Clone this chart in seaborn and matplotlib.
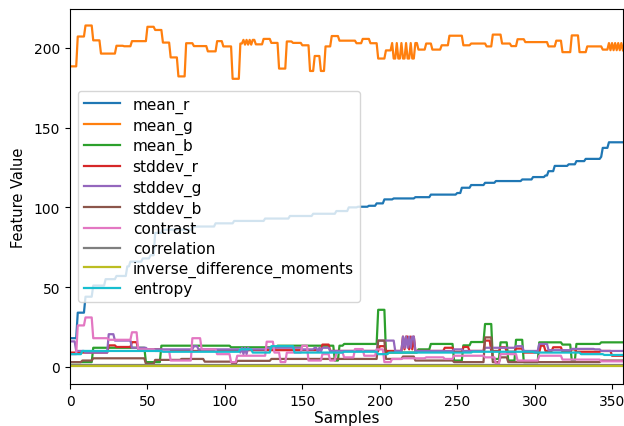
import numpy as np
import matplotlib
matplotlib.use("Agg")
import matplotlib.pyplot as plt
import seaborn as sns

n_samples = 358

# each series: sample index where a new level starts, and that level
mean_r_x = [0, 5, 10, 15, 23, 30, 37, 39, 47, 52, 55, 60, 80, 94, 106, 126, 142, 157, 172, 180,
            186, 193, 198, 203, 209, 223, 233, 250, 253, 259, 268, 275, 292, 299, 307, 309, 313, 322, 327, 333,
            343, 344, 348]
mean_r_y = [18, 34, 44, 51, 55, 57, 63, 66, 68, 70, 84, 86, 88, 90, 91.5, 93, 94.6, 96, 97.7, 100,
            100.4, 101, 102.5, 105, 105.6, 106.4, 108, 109, 112.3, 114, 115.4, 116.5, 117.5, 119, 120, 122.7, 126, 127, 129, 130.4,
            131.7, 137.3, 140.8]

mean_g_x = [0, 5, 10, 15, 20, 30, 35, 40, 50, 55,
            60, 65, 70, 75, 80, 89, 95, 99, 105, 110,
            112, 113, 114, 115, 116, 117, 118, 120, 125, 130,
            135, 140, 144, 150, 155, 158, 162, 165, 169, 174,
            185, 189, 194, 199, 204, 208, 209, 211, 212, 214,
            215, 217, 218, 220, 221, 223, 225, 230, 234, 240,
            245, 254, 259, 269, 273, 279, 285, 289, 294, 309,
            314, 318, 324, 329, 334, 344, 348, 349, 350, 351,
            352, 353, 354, 355, 356, 357]
mean_g_y = [188.4, 207.1, 214, 204.7, 196.4, 201.3, 201, 204.2, 213.2, 211.2,
            203.3, 194, 182.1, 202.9, 201.1, 197.8, 204.2, 200.9, 180.6, 202.7,
            205, 202, 205, 202, 205, 202, 205, 202.2, 205.6, 203.1,
            187, 204, 203.1, 201.6, 185.5, 194.9, 185.5, 200.9, 207.4, 204.5,
            202.9, 205.6, 202.9, 193.3, 198.4, 203, 193.3, 203, 193.3, 203,
            193.3, 203, 193.3, 203, 193.3, 203, 198.9, 202.7, 198.9, 201.6,
            207.6, 201.6, 202.7, 200.9, 208.3, 202.7, 201.1, 205.4, 203.6, 200.9,
            204.5, 197.3, 207.8, 197.3, 200.9, 198.9, 203, 198.5, 203, 198.5,
            203, 198.5, 203, 198.5, 203, 198.5]

mean_b_x = [0, 15, 49, 59, 104, 134, 171, 174, 177, 199, 204, 225, 233, 248, 254, 259, 268, 273, 278, 283,
            288, 293, 303, 318, 324, 327, 343]
mean_b_y = [3, 12, 3, 13.3, 12.3, 13.3, 4, 13.3, 14.4, 35.8, 9, 11, 14.4, 4, 13.5, 15.6, 26.9, 5, 15.4, 4,
            17, 3, 15.4, 14, 4, 14.4, 15.4]

stddev_r_x = [0, 25, 30, 40, 44, 60, 100, 163, 168, 200, 204, 215, 216, 217, 219, 220, 221, 222, 223, 242,
              248, 254, 258, 268, 272, 278, 282, 288, 293, 304, 307, 312, 318, 324, 327, 343, 350]
stddev_r_y = [9, 13.5, 12.5, 15.5, 11, 10, 10.5, 14, 10, 13, 10, 19, 11, 19, 11, 19, 11, 19, 10, 12,
              9.5, 12.5, 10, 16.5, 10, 12.3, 9.5, 11.5, 9, 13.3, 10, 12.3, 9.5, 11, 9.5, 10, 7]

stddev_g_x = [0, 4, 10, 25, 29, 40, 50, 80, 83, 110, 111, 112, 113, 114, 115, 116, 127, 150, 158, 160,
              161, 162, 163, 168, 199, 210, 215, 216, 217, 218, 219, 220, 221, 223, 248, 254, 268, 278, 288, 293,
              303, 309, 324, 339, 343]
stddev_g_y = [16, 10, 9, 20.5, 16.5, 12, 11, 13, 11, 9, 12, 8, 12, 8, 12, 11, 12, 11, 12, 9.5,
              12, 9.5, 12, 10, 16.5, 10, 19, 12, 19, 12, 19, 12, 19, 10, 11, 10, 12, 12, 13, 10,
              14.4, 10.5, 11.3, 11, 10]

stddev_b_x = [0, 8, 15, 49, 55, 72, 87, 105, 108, 130, 199, 204, 215, 223, 248, 268, 273, 278, 283, 343]
stddev_b_y = [3, 4, 5.4, 2, 4.4, 5, 3.3, 2, 3.8, 5, 16.5, 5, 6.5, 4, 3, 18.5, 3, 6, 3, 4]

contrast_x = [0, 5, 10, 15, 25, 40, 44, 55, 65, 79, 85, 95, 104, 108, 127, 132, 136, 140, 150, 154,
              163, 168, 172, 177, 184, 190, 198, 203, 208, 215, 230, 242, 248, 268, 275, 278, 289, 303, 318, 343]
contrast_y = [8, 26, 31, 18, 17, 21.7, 11, 10, 4, 18, 11, 8, 3, 7, 15.8, 9, 3, 9, 13.3, 4,
              8, 4, 9, 6, 11.2, 7, 11, 3, 5, 5.4, 6, 5, 7, 6, 2, 8, 4, 7, 4.6, 3.5]

correlation_x = [0]
correlation_y = [1.0]

idm_x = [0]
idm_y = [0.4]

entropy_x = [0, 8, 60, 110, 118, 130, 145, 177, 199, 206, 235, 260, 300, 330, 345]
entropy_y = [8, 10, 9.5, 11, 9, 13, 9, 9.5, 8, 9, 9, 9.5, 9, 8, 7.5]


def expand(xs, ys):
    lengths = np.diff(np.append(xs, n_samples))
    return np.repeat(ys, lengths)


series = [
    ("mean_r", mean_r_x, mean_r_y),
    ("mean_g", mean_g_x, mean_g_y),
    ("mean_b", mean_b_x, mean_b_y),
    ("stddev_r", stddev_r_x, stddev_r_y),
    ("stddev_g", stddev_g_x, stddev_g_y),
    ("stddev_b", stddev_b_x, stddev_b_y),
    ("contrast", contrast_x, contrast_y),
    ("correlation", correlation_x, correlation_y),
    ("inverse_difference_moments", idm_x, idm_y),
    ("entropy", entropy_x, entropy_y),
]

colors = sns.color_palette("tab10", 10)
samples = np.arange(n_samples)

fig = plt.figure(figsize=(6.24, 4.27), dpi=100)
ax = fig.add_axes([0.1122, 0.0984, 0.886, 0.878])

for (name, xs, ys), c in zip(series, colors):
    sns.lineplot(x=samples, y=expand(xs, ys), ax=ax, color=c, label=name, linewidth=1.6)

ax.set_xlim(0, n_samples - 1)
ax.set_ylim(-10.7, 224.3)
ax.set_xlabel("Samples", fontsize=11, labelpad=2)
ax.set_ylabel("Feature Value", fontsize=10.5, labelpad=6)
ax.tick_params(labelsize=10)
ax.legend(loc="center left", fontsize=11, labelspacing=0.3, handlelength=2.4)

fig.savefig("out.png", dpi=100)
